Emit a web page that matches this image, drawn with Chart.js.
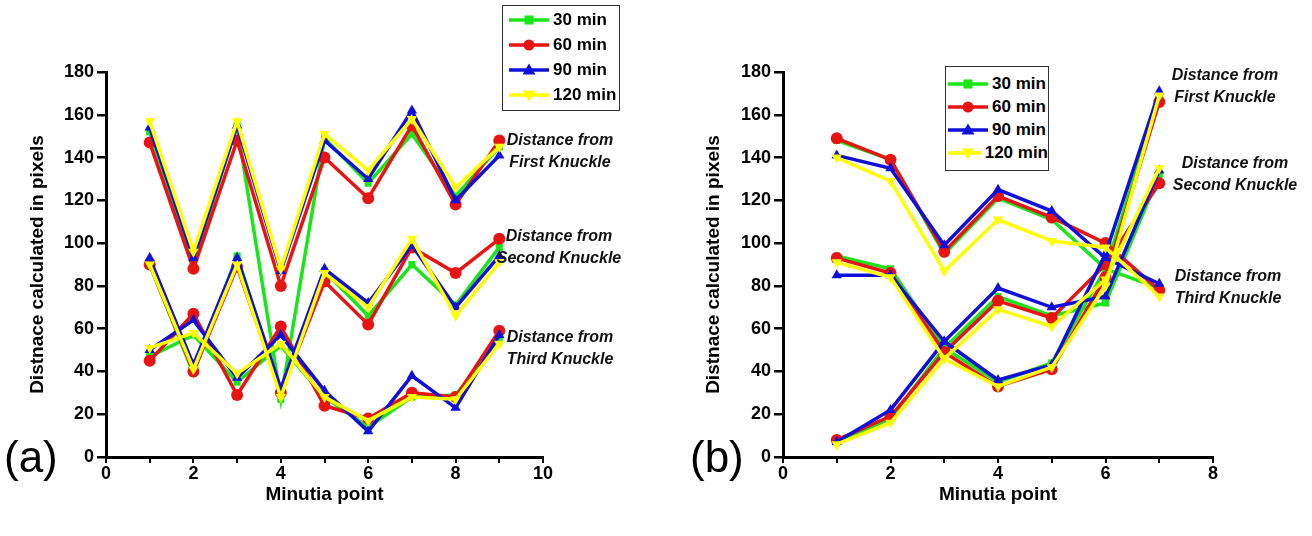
<!DOCTYPE html>
<html>
<head>
<meta charset="utf-8">
<script src="https://cdn.jsdelivr.net/npm/chart.js@4.4.1/dist/chart.umd.min.js"></script>
<style>
  body { margin: 0; background: #fff; width: 1312px; height: 536px; overflow: hidden; position: relative; font-family: "Liberation Sans", Arial, sans-serif; }
  .panel { position: absolute; top: 0; width: 656px; height: 536px; }
  .tag { position: absolute; font-size: 44px; color: #000; }
  .note { position: absolute; width: 150px; font-weight: bold; font-style: italic; font-size: 16px; line-height: 22px; text-align: center; color: #111; white-space: nowrap; }
  .legend { position: absolute; border: 1px solid #333; background: #fff; white-space: nowrap; }
  .legend div { display: flex; align-items: center; font-weight: bold; font-size: 17px; }
  .legend svg { margin-right: 4px; }
</style>
</head>
<body>
<div class="panel" style="left:0"><canvas id="chart-a"></canvas></div>
<div class="panel" style="left:656px"><canvas id="chart-b"></canvas></div>

<div class="tag" style="left:4px;top:432px">(a)</div>
<div class="tag" style="left:690px;top:432px">(b)</div>

<div class="note" style="left:485px;top:129px">Distance from<br>First Knuckle</div>
<div class="note" style="left:484px;top:225px">Distance from<br>Second Knuckle</div>
<div class="note" style="left:485px;top:326px">Distance from<br>Third Knuckle</div>
<div class="note" style="left:1150px;top:64px">Distance from<br>First Knuckle</div>
<div class="note" style="left:1160px;top:152px">Distance from<br>Second Knuckle</div>
<div class="note" style="left:1153px;top:265px">Distance from<br>Third Knuckle</div>

<div id="legend-a" class="legend" style="left:502px;top:5px;width:110px;padding:1px 0 3px 6px"></div>
<div id="legend-b" class="legend" style="left:945px;top:66px;width:100px;padding:5px 0 6px 2px"></div>

<script>
// ---- series names / styles
const timeLabels = ['30 min', '60 min', '90 min', '120 min'];
const colors = ['#19e619', '#e81313', '#1010d8', '#ffff00'];

// ---- panel (a): minutia points 1..9
const xsA = [1, 2, 3, 4, 5, 6, 7, 8, 9];
const aFirst30  = [152, 91, 155, 27, 149, 128, 151, 122, 145];
const aFirst60  = [147, 88, 148, 80, 140, 121, 155, 118, 148];
const aFirst90  = [154, 93, 155, 87, 148, 130, 162, 120, 141];
const aFirst120 = [157, 96, 157, 88, 151, 134, 158, 126, 145];
const aSecond30  = [90, 39, 94, 30, 87, 66, 90, 71, 98];
const aSecond60  = [90, 40, 89, 30, 82, 62, 98, 86, 102];
const aSecond90  = [93, 43, 93, 32, 88, 72, 99, 70, 94];
const aSecond120 = [90, 41, 90, 28, 86, 70, 102, 66, 91];
const aThird30  = [47, 57, 35, 52, 28, 14, 28, 29, 55];
const aThird60  = [45, 67, 29, 61, 24, 18, 30, 28, 59];
const aThird90  = [50, 64, 37, 57, 31, 12, 38, 23, 57];
const aThird120 = [51, 58, 39, 53, 28, 17, 28, 27, 53];

// ---- panel (b): minutia points 1..7
const xsB = [1, 2, 3, 4, 5, 6, 7];
const bTop30  = [148, 139, 95, 121, 111, 88, 79];
const bTop60  = [149, 139, 96, 122, 112, 100, 78];
const bTop90  = [141, 135, 99, 125, 115, 93, 81];
const bTop120 = [140, 129, 87, 111, 101, 98, 75];
const bMid30  = [94, 88, 51, 75, 66, 72, 132];
const bMid60  = [93, 86, 49, 73, 65, 90, 128];
const bMid90  = [85, 85, 54, 79, 70, 75, 134];
const bMid120 = [91, 84, 46, 69, 61, 83, 135];
const bLow30  = [7, 18, 51, 35, 44, 88, 168];
const bLow60  = [8, 19, 49, 33, 41, 84, 166];
const bLow90  = [7, 22, 54, 36, 43, 95, 171];
const bLow120 = [6, 16, 46, 33, 42, 80, 169];

const yTicks = [0, 20, 40, 60, 80, 100, 120, 140, 160, 180];

function pointStyleFor(i) {
    return ['rect', 'circle', 'triangle', 'triangle'][i];
}

function makeSets(xs, groups) {
    const sets = [];
    groups.forEach(g => {
        g.forEach((vals, i) => {
            sets.push({
                label: timeLabels[i],
                data: vals.map((v, k) => ({ x: xs[k], y: v })),
                borderColor: colors[i],
                backgroundColor: colors[i],
                borderWidth: 3.5,
                pointStyle: pointStyleFor(i),
                rotation: i === 3 ? 180 : 0,
                pointRadius: i === 0 ? 5 : 6,
                pointBorderWidth: 0,
                order: 3 - i,
                tension: 0
            });
        });
    });
    return sets;
}

const tickFont = { family: 'Liberation Sans', size: 18, weight: 'bold' };
const titleFont = { family: 'Liberation Sans', size: 19, weight: 'bold' };

function makeChart(id, sets, xMax, padLeft, yWidth, padRight) {
    return new Chart(document.getElementById(id), {
        type: 'line',
        data: { datasets: sets },
        options: {
            responsive: false,
            animation: false,
            layout: { padding: { left: padLeft, top: 72, right: padRight, bottom: 26 } },
            plugins: { legend: { display: false }, tooltip: { enabled: false } },
            scales: {
                x: {
                    type: 'linear', min: 0, max: xMax,
                    afterFit: s => { s.height = 53; },
                    border: { display: true, color: '#000', width: 3 },
                    grid: { drawOnChartArea: false, color: '#000', lineWidth: 2, tickLength: 6 },
                    ticks: {
                        stepSize: 1, color: '#000', font: tickFont, padding: 0,
                        callback: v => (v % 2 === 0 ? v : '')
                    },
                    title: { display: true, text: 'Minutia point', color: '#000', font: titleFont, padding: { top: 2 } }
                },
                y: {
                    min: 0, max: 180,
                    afterFit: s => { s.width = yWidth; },
                    afterBuildTicks: s => { s.ticks = yTicks.map(v => ({ value: v })); },
                    border: { display: true, color: '#000', width: 3 },
                    grid: { drawOnChartArea: false, color: '#000', lineWidth: 2.5, tickLength: 9 },
                    ticks: { color: '#000', font: tickFont, padding: 3 },
                    title: { display: true, text: 'Distnace calculated in pixels', color: '#000', font: titleFont, padding: 0 }
                }
            }
        }
    });
}

function setSize(id) {
    const c = document.getElementById(id);
    c.width = 656; c.height = 536;
    c.style.width = '656px'; c.style.height = '536px';
}
setSize('chart-a'); setSize('chart-b');

makeChart('chart-a', makeSets(xsA, [
    [aFirst30, aFirst60, aFirst90, aFirst120],
    [aSecond30, aSecond60, aSecond90, aSecond120],
    [aThird30, aThird60, aThird90, aThird120]
]), 10, 26, 80, 113);

makeChart('chart-b', makeSets(xsB, [
    [bTop30, bTop60, bTop90, bTop120],
    [bMid30, bMid60, bMid90, bMid120],
    [bLow30, bLow60, bLow90, bLow120]
]), 8, 46, 81, 99);

// legends (HTML text with little svg samples)
function legendHtml(lineLen, rowH) {
    const m = lineLen / 2;
    const marks = [
        c => `<rect x="${m - 4.5}" y="5.5" width="9" height="9" fill="${c}"/>`,
        c => `<circle cx="${m}" cy="10" r="5.5" fill="${c}"/>`,
        c => `<polygon points="${m},3.5 ${m - 6.5},14.5 ${m + 6.5},14.5" fill="${c}"/>`,
        c => `<polygon points="${m},16.5 ${m - 6.5},5.5 ${m + 6.5},5.5" fill="${c}"/>`
    ];
    return timeLabels.map((t, i) => `<div style="height:${rowH}px"><svg width="${lineLen}" height="20">
        <line x1="0" y1="10" x2="${lineLen}" y2="10" stroke="${colors[i]}" stroke-width="3.5"/>
        ${marks[i](colors[i])}</svg>${t}</div>`).join('');
}
document.getElementById('legend-a').innerHTML = legendHtml(40, 25);
document.getElementById('legend-b').innerHTML = legendHtml(40, 23);
</script>
</body>
</html>
